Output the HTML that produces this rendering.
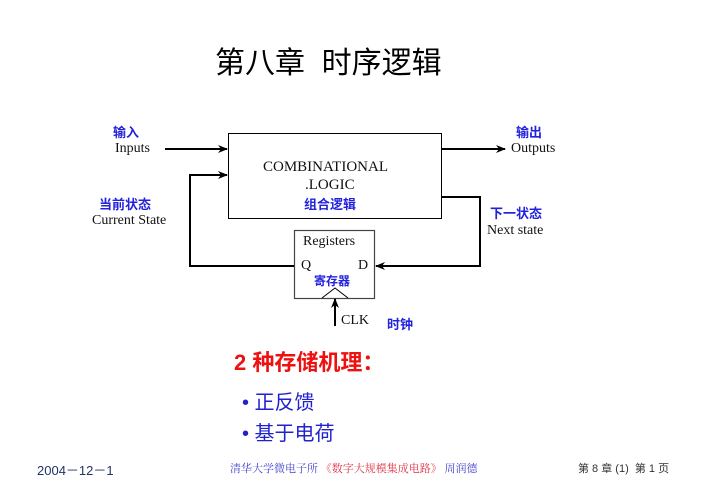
<!DOCTYPE html>
<html><head><meta charset="utf-8"><style>
body{margin:0;width:713px;height:504px;background:#fff;overflow:hidden;position:relative;font-family:"Liberation Serif","Noto Serif CJK SC",serif}
.t{position:absolute;white-space:nowrap}
.b{color:#2222dd;font-family:"Liberation Sans","Noto Sans CJK SC",sans-serif;font-weight:bold;font-size:13px}
.s{font-size:14px;color:#111}
</style></head><body>
<div class="t" style="left:215px;top:38px;font-size:30px;font-family:'Liberation Sans','Noto Sans CJK SC',sans-serif">第八章&nbsp; 时序逻辑</div>
<svg width="713" height="504" style="position:absolute;left:0;top:0">
<defs><marker id="a" markerWidth="10" markerHeight="8" refX="9" refY="4" orient="auto" markerUnits="userSpaceOnUse"><path d="M0,0L10,4L0,8L3,4z" fill="#000"/></marker></defs>
<rect x="228.5" y="133.5" width="213" height="85" fill="none" stroke="#000" stroke-width="1"/>
<rect x="294.5" y="230.5" width="80" height="68" fill="none" stroke="#444" stroke-width="1.2"/>
<path d="M322,298L335,288L348,298" fill="none" stroke="#000" stroke-width="1"/>
<g stroke="#000" stroke-width="2" fill="none">
<line x1="165" y1="149" x2="227" y2="149" marker-end="url(#a)"/>
<line x1="442" y1="149" x2="505" y2="149" marker-end="url(#a)"/>
<polyline points="294,266 190,266 190,175 227,175" marker-end="url(#a)"/>
<polyline points="442,197 480,197 480,266 376,266" marker-end="url(#a)"/>
<line x1="335" y1="326" x2="335" y2="299" marker-end="url(#a)"/>
</g></svg>
<div class="t b" style="left:113px;top:122px">输入</div>
<div class="t s" style="left:115px;top:141px">Inputs</div>
<div class="t b" style="left:516px;top:122px">输出</div>
<div class="t s" style="left:511px;top:141px">Outputs</div>
<div class="t s" style="left:263px;top:159px;font-size:15px">COMBINATIONAL</div>
<div class="t s" style="left:305px;top:177px;font-size:15px">.LOGIC</div>
<div class="t b" style="left:304px;top:194px">组合逻辑</div>
<div class="t b" style="left:99px;top:194px">当前状态</div>
<div class="t s" style="left:92px;top:213px">Current State</div>
<div class="t b" style="left:490px;top:203px">下一状态</div>
<div class="t s" style="left:487px;top:223px">Next state</div>
<div class="t s" style="left:303px;top:234px">Registers</div>
<div class="t s" style="left:301px;top:258px">Q</div>
<div class="t s" style="left:358px;top:258px">D</div>
<div class="t b" style="left:314px;top:272px;font-size:12px">寄存器</div>
<div class="t s" style="left:341px;top:313px">CLK</div>
<div class="t b" style="left:387px;top:314px">时钟</div>
<div class="t" style="left:234px;top:345px;font-size:22px;color:#ee1111;font-weight:bold;font-family:'Liberation Sans','Noto Sans CJK SC',sans-serif">2 <span>种存储机理：</span></div>
<div class="t" style="left:242px;top:386px;font-size:20px;color:#2222cc;font-family:'Liberation Sans','Noto Sans CJK SC',sans-serif">• 正反馈</div>
<div class="t" style="left:242px;top:417px;font-size:20px;color:#2222cc;font-family:'Liberation Sans','Noto Sans CJK SC',sans-serif">• 基于电荷</div>
<div class="t" style="left:37px;top:460px;font-size:13px;color:#223366;font-family:'Liberation Sans',sans-serif">2004－12－1</div>
<div class="t" style="left:230px;top:460px;font-size:11px;color:#4444cc">清华大学微电子所 <span style="color:#dd3344">《数字大规模集成电路》</span> 周润德</div>
<div class="t" style="left:578px;top:460px;font-size:11px;color:#333;font-family:'Liberation Sans','Noto Sans CJK SC',sans-serif">第 8 章 (1)&nbsp; 第 1 页</div>
</body></html>
